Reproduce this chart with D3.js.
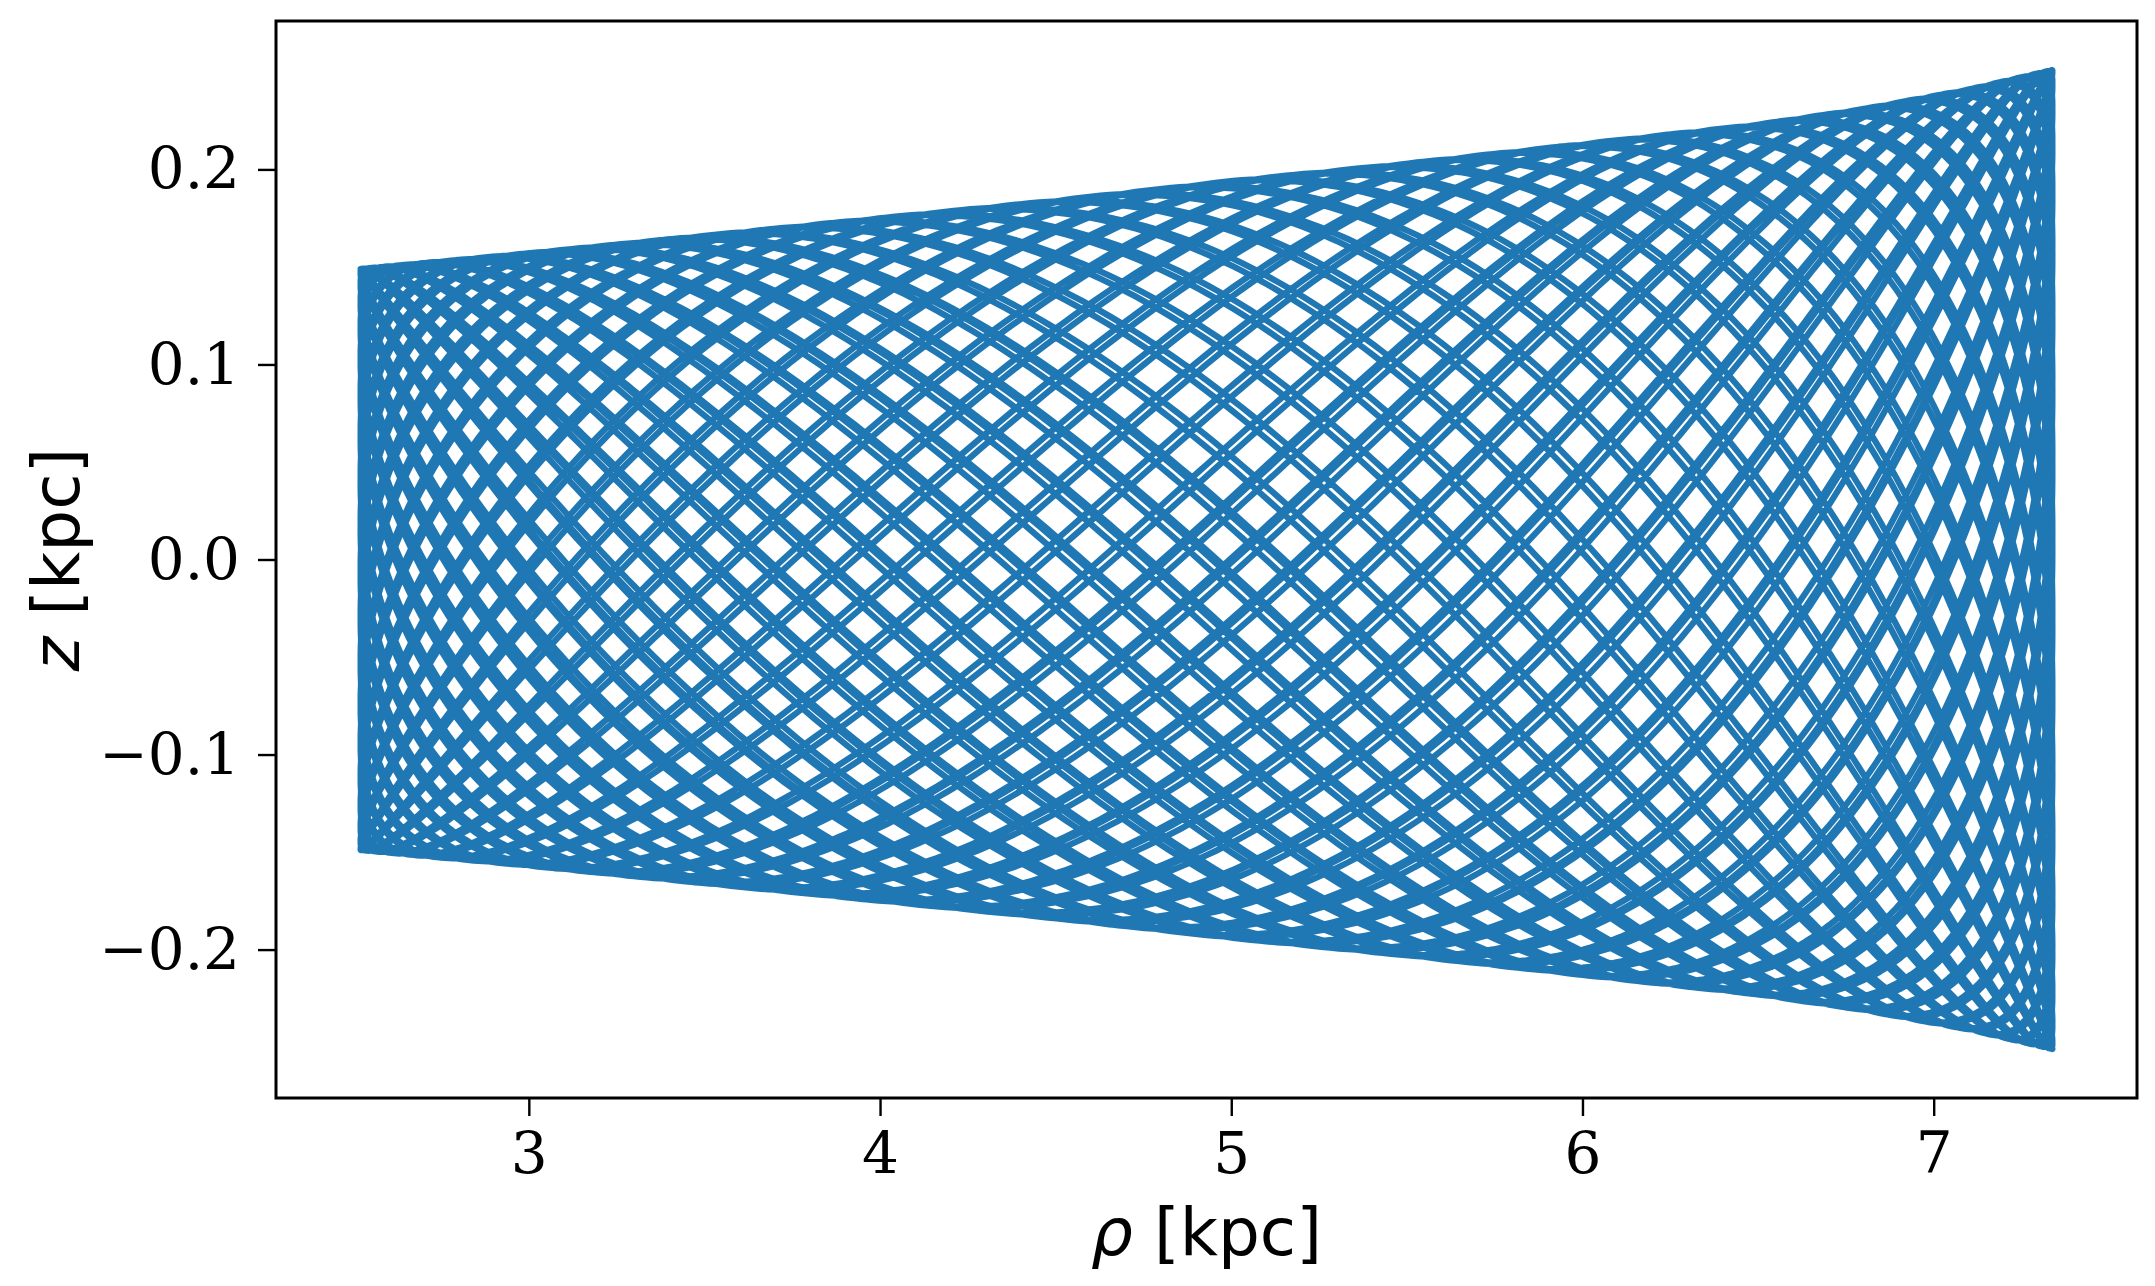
<!DOCTYPE html>
<html>
<head>
<meta charset="utf-8">
<script src="https://cdn.jsdelivr.net/npm/d3@7"></script>
<style>
	body { margin: 0; background: #fff; }
	svg { display: block; }
</style>
</head>
<body>
<div id="chart"></div>
<script>
// values
const rhoTurn = [2.521, 7.338];          // peri- and apocentre [kpc]
const envRho = [2.521, 3.0, 3.5, 4.0, 4.5, 5.0, 5.5, 6.0, 6.5, 6.8, 7.1, 7.338]; // rho where the z envelope was read
const envZ = [0.149, 0.157, 0.166, 0.175, 0.184, 0.194, 0.203, 0.213, 0.223, 0.231, 0.241, 0.251]; // max |z| there [kpc]
const freqRatio = [2.02569];             // vertical / radial frequency (mesh of ~39 strands)
const startPhase = [0.01];               // vertical phase at first pericentre
const nPeriods = [50];                   // radial periods shown
const xTicks = [3, 4, 5, 6, 7];
const yTicks = [-0.2, -0.1, 0.0, 0.1, 0.2];

const width = 2155, height = 1286;
const margin = { top: 21, right: 18, bottom: 188, left: 276 };
const stepsPerPeriod = 600;

// orbit in (rho, z), radial angle advancing uniformly
const rhoMid = (rhoTurn[0] + rhoTurn[1]) / 2;
const rhoAmp = (rhoTurn[1] - rhoTurn[0]) / 2;
const zEnvelope = d3.scaleLinear().domain(envRho).range(envZ);

const orbit = d3.range(nPeriods[0] * stepsPerPeriod + 1).map(i => {
	const th = 2 * Math.PI * i / stepsPerPeriod;
	const rho = rhoMid - rhoAmp * Math.cos(th);
	return { rho: rho, z: zEnvelope(rho) * Math.cos(freqRatio[0] * th + startPhase[0]) };
});

// matplotlib style 5% padding
const pad = (ext) => {
	const d = (ext[1] - ext[0]) * 0.05;
	return [ext[0] - d, ext[1] + d];
};

const x = d3.scaleLinear()
	.domain(pad(d3.extent(orbit, d => d.rho)))
	.range([margin.left, width - margin.right]);

const y = d3.scaleLinear()
	.domain(pad([-d3.max(orbit, d => Math.abs(d.z)), d3.max(orbit, d => Math.abs(d.z))]))
	.range([height - margin.bottom, margin.top]);

const svg = d3.select('#chart')
	.append('svg')
	.attr('width', width)
	.attr('height', height);

svg.append('path')
	.datum(orbit)
	.attr('fill', 'none')
	.attr('stroke', '#1f77b4')
	.attr('stroke-width', 6.2)
	.attr('stroke-linejoin', 'round')
	.attr('d', d3.line()
		.x(d => x(d.rho))
		.y(d => y(d.z))
	);

const xAxis = g => {
	g.attr('transform', `translate(0, ${height - margin.bottom})`)
		.call(d3.axisBottom(x)
			.tickValues(xTicks)
			.tickSize(18)
			.tickPadding(16)
			.tickFormat(d3.format('d'))
		)
		.call(g => g.select('.domain').remove());
};

const yAxis = g => {
	g.attr('transform', `translate(${margin.left}, 0)`)
		.call(d3.axisLeft(y)
			.tickValues(yTicks)
			.tickSize(18)
			.tickPadding(18)
			.tickFormat(d => d3.format('.1f')(d).replace('-', '\u2212'))
		)
		.call(g => g.select('.domain').remove());
};

svg.append('g').call(xAxis);
svg.append('g').call(yAxis);

svg.selectAll('.tick line')
	.attr('stroke', '#000')
	.attr('stroke-width', 2.4);

svg.selectAll('.tick text')
	.attr('fill', '#000')
	.style('font-family', '"DejaVu Serif", serif')
	.style('font-size', '58px');

// frame
svg.append('rect')
	.attr('x', margin.left)
	.attr('y', margin.top)
	.attr('width', width - margin.left - margin.right)
	.attr('height', height - margin.top - margin.bottom)
	.attr('fill', 'none')
	.attr('stroke', '#000')
	.attr('stroke-width', 3);

// axis labels
const xLabel = svg.append('text')
	.attr('x', (margin.left + width - margin.right) / 2)
	.attr('y', 1255)
	.attr('text-anchor', 'middle')
	.style('font-family', '"DejaVu Sans", sans-serif')
	.style('font-size', '66px');
xLabel.append('tspan').style('font-style', 'italic').text('\u03c1');
xLabel.append('tspan').text(' [kpc]');

const yLabel = svg.append('text')
	.attr('transform', `translate(79, ${(margin.top + height - margin.bottom) / 2}) rotate(-90)`)
	.attr('text-anchor', 'middle')
	.style('font-family', '"DejaVu Sans", sans-serif')
	.style('font-size', '66px');
yLabel.append('tspan').style('font-style', 'italic').text('z');
yLabel.append('tspan').text(' [kpc]');
</script>
</body>
</html>
